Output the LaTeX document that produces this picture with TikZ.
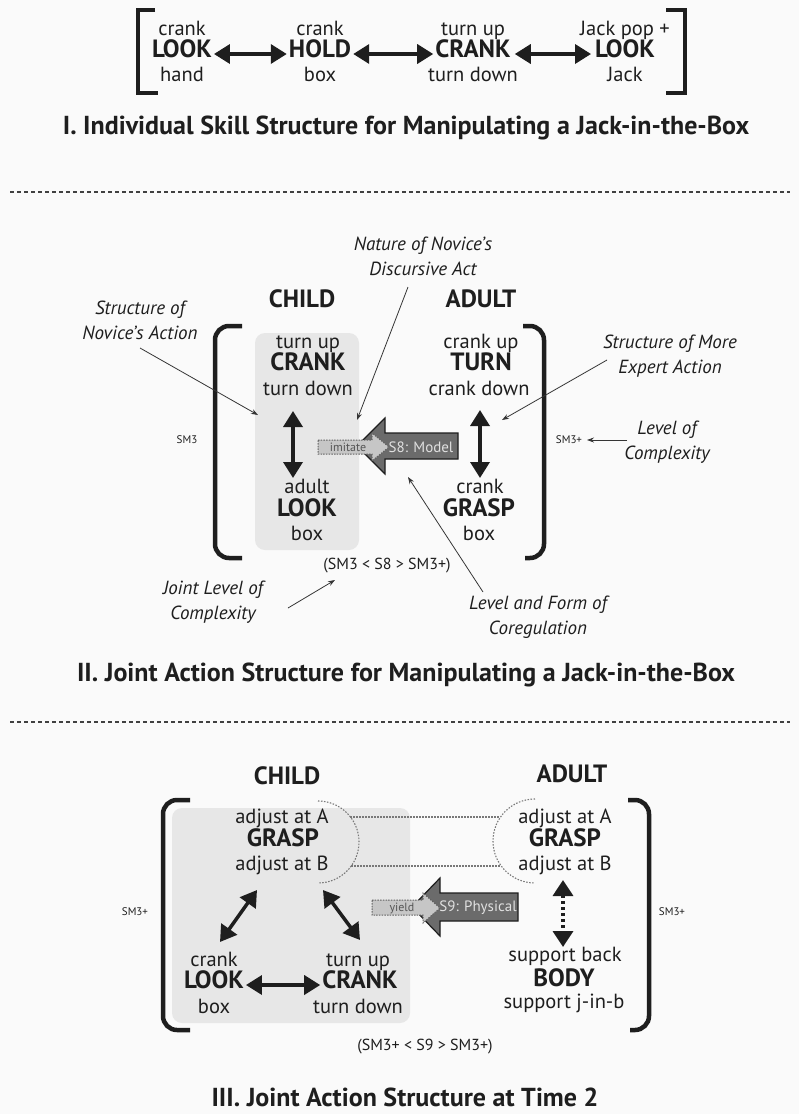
\documentclass[tikz,border=0pt]{standalone}
\usepackage{fontspec}
\setmainfont{PT Sans}
\usetikzlibrary{arrows.meta}
\definecolor{ink}{HTML}{1E1E1E}
\definecolor{paper}{HTML}{FAFAFA}
\definecolor{boxgray}{HTML}{E7E7E7}
\definecolor{arrowfill}{HTML}{6B6B6B}
\definecolor{ghost}{HTML}{C6C6C6}
\begin{document}
\begin{tikzpicture}[x=1pt,y=-1pt,
  bw/.style={font=\bfseries\fontsize{25}{25}\selectfont, text=ink, inner xsep=2pt, inner ysep=0pt, text height=0.7em, text depth=0pt},
  rw/.style={font=\fontsize{20.5}{20.5}\selectfont, text=ink, inner sep=0pt, text height=0.6em, text depth=0pt},
  it/.style={font=\itshape\fontsize{19}{25}\selectfont, text=ink, align=center, inner sep=0pt},
  ttl/.style={font=\bfseries\fontsize{26}{26}\selectfont, text=ink, inner sep=0pt},
  note/.style={font=\fontsize{11}{11}\selectfont, text=ink, inner sep=0pt},
  joint/.style={font=\fontsize{16}{16}\selectfont, text=ink, inner sep=0pt},
  dbl/.style={draw=ink, line width=3.5pt, {Triangle[length=16pt,width=19pt]}-{Triangle[length=16pt,width=19pt]}},
  lead/.style={draw=ink!90, line width=0.8pt, -{Stealth[length=7pt,width=5pt]}},
  brk/.style={draw=ink, line width=4.5pt},
  sep/.style={draw=ink!85, line width=1.8pt, dash pattern=on 4pt off 3pt},
  dots/.style={draw=ink!60, line width=1.1pt, dash pattern=on 1.5pt off 1.5pt},
  force/.style={fill=arrowfill, draw=ink, line width=1.2pt},
  tryit/.style={fill=ghost, draw=ink!70, line width=1pt, dash pattern=on 1.5pt off 1.2pt},
  forcetxt/.style={font=\fontsize{15}{15}\selectfont, text=white!88!black, inner sep=0pt},
  trytxt/.style={font=\fontsize{12}{12}\selectfont, text=ink!75, inner sep=0pt},
]
\useasboundingbox (0,0) rectangle (799,1114);
\fill[paper] (0,0) rectangle (799,1114);

% ---------------- I. individual skill ----------------
\draw[brk, line width=4pt] (155,10) -- (138,10) -- (138,93) -- (158,93);
\draw[brk, line width=4pt] (666,10) -- (685,10) -- (685,93) -- (666,93);

\node[rw] (i1t) at (182,32) {crank};
\node[bw] (i1)  at (182,54) {LOOK};
\node[rw] (i1b) at (182,78) {hand};
\node[rw] (i2t) at (320,32) {crank};
\node[bw] (i2)  at (320,54) {HOLD};
\node[rw] (i2b) at (320,78) {box};
\node[rw] (i3t) at (473,32) {turn up};
\node[bw] (i3)  at (473,54) {CRANK};
\node[rw] (i3b) at (473,78) {turn down};
\node[rw] (i4t) at (625,32) {Jack pop +};
\node[bw] (i4)  at (625,54) {LOOK};
\node[rw] (i4b) at (625,78) {Jack};

\draw[dbl] (i1.east) -- (i2.west);
\draw[dbl] (i2.east) -- (i3.west);
\draw[dbl] ([xshift=2pt]i3.east) -- ([xshift=-2pt]i4.west);

\node[ttl] (t1) at (406,128) {I. Individual Skill Structure for Manipulating a Jack-in-the-Box};

\draw[sep] (10,192) -- (790,192);

% ---------------- II. joint action ----------------
\fill[boxgray, rounded corners=10pt] (255,333) rectangle (359,550);
\draw[brk, rounded corners=14pt] (242,326) -- (215,326) -- (215,558) -- (242,558);
\draw[brk, rounded corners=14pt] (523,326) -- (544,326) -- (544,558) -- (525,558);

\node[bw] (ch2) at (302,304) {CHILD};
\node[bw] (ad2) at (481,304) {ADULT};

\node[rw] (c1t) at (308,345) {turn up};
\node[bw] (c1)  at (308,367) {CRANK};
\node[rw] (c1b) at (308,392) {turn down};
\node[rw] (c2t) at (307,490) {adult};
\node[bw] (c2)  at (307,513) {LOOK};
\node[rw] (c2b) at (307,537) {box};
\coordinate (ca) at (293,411);
\coordinate (cb) at (293,478);
\draw[dbl] (ca) -- (cb);

\node[rw] (d1t) at (481,345) {crank up};
\node[bw] (d1)  at (481,367) {TURN};
\node[rw] (d1b) at (479,392) {crank down};
\node[rw] (d2t) at (480,490) {crank};
\node[bw] (d2)  at (479,513) {GRASP};
\node[rw] (d2b) at (479,537) {box};
\coordinate (da) at (480,410);
\coordinate (db) at (480,478);
\draw[dbl] (da) -- (db);

% model arrow from adult to child, with the child's imitation inside it
\draw[force] (357,446) -- (385,418) -- (385,433) -- (458,433) -- (458,459)
  -- (385,459) -- (385,474) -- cycle;
\node[forcetxt] (s8) at (421,447) {S8: Model};
\draw[tryit] (318,440) -- (372,440) -- (372,433) -- (389,447) -- (372,461)
  -- (372,454) -- (318,454) -- cycle;
\node[trytxt] (imit) at (348,447) {imitate};

\node[note] (sm3a) at (187,440) {SM3};
\node[note] (sm3b) at (569,440) {SM3+};

\node[it] (nov)  at (140,320) {Structure of\\Novice’s Action};
\node[it] (disc) at (423,256) {Nature of Novice’s\\Discursive Act};
\node[it] (exp)  at (670,356) {Structure of More\\Expert Action};
\node[it] (lvl)  at (667,442) {Level of\\Complexity};
\node[it] (jlc)  at (213,602) {Joint Level of\\Complexity};
\node[it] (coreg) at (538,617) {Level and Form of\\Coregulation};
\node[joint] (j2) at (387,566) {(SM3 < S8 > SM3+)};

\coordinate (novA) at (140,348);  \coordinate (novB) at (258,415);
\coordinate (discA) at (408,287); \coordinate (discB) at (357,420);
\coordinate (expA) at (607,360);  \coordinate (expB) at (502,420);
\coordinate (lvlA) at (627,440);  \coordinate (lvlB) at (587,440);
\coordinate (jlcA) at (288,608);  \coordinate (jlcB) at (335,580);
\coordinate (corA) at (483,592);  \coordinate (corB) at (408,477);
\draw[lead] (novA) -- (novB);
\draw[lead] (discA) -- (discB);
\draw[lead] (expA) -- (expB);
\draw[lead] (lvlA) -- (lvlB);
\draw[lead] (jlcA) -- (jlcB);
\draw[lead] (corA) -- (corB);

\node[ttl] (t2) at (406,675) {II. Joint Action Structure for Manipulating a Jack-in-the-Box};

\draw[sep] (10,722) -- (790,722);

% ---------------- III. joint action at time 2 ----------------
\fill[boxgray, rounded corners=10pt] (172,808) rectangle (410,1023);
\draw[brk, rounded corners=14pt] (190,800) -- (163,800) -- (163,1030) -- (190,1030);
\draw[brk, rounded corners=14pt] (628,800) -- (649,800) -- (649,1030) -- (630,1030);

\node[bw] (ch3) at (287,781) {CHILD};
\node[bw] (ad3) at (572,779) {ADULT};

\node[rw] (g1t) at (282,820) {adjust at A};
\node[bw] (g1)  at (283,843) {GRASP};
\node[rw] (g1b) at (282,867) {adjust at B};
\node[rw] (g2t) at (565,820) {adjust at A};
\node[bw] (g2)  at (565,843) {GRASP};
\node[rw] (g2b) at (565,867) {adjust at B};

% shared grasp: dotted half circles joined by dotted lines
\draw[dots] (318,801) arc[start angle=-90, end angle=90, radius=41];
\draw[dots] (535,799) arc[start angle=270, end angle=90, radius=42];
\coordinate (hA1) at (350,817); \coordinate (hA2) at (500,817);
\coordinate (hB1) at (351,866); \coordinate (hB2) at (501,866);
\draw[dots] (hA1) -- (hA2);
\draw[dots] (hB1) -- (hB2);

\node[rw] (l3t) at (214,963) {crank};
\node[bw] (l3)  at (214,985) {LOOK};
\node[rw] (l3b) at (214,1010) {box};
\node[rw] (k3t) at (358,963) {turn up};
\node[bw] (k3)  at (360,985) {CRANK};
\node[rw] (k3b) at (358,1010) {turn down};
\draw[dbl] (l3.east) -- (k3.west);

\coordinate (gl1) at (257,890); \coordinate (gl2) at (220,942);
\coordinate (gr1) at (323,890); \coordinate (gr2) at (360,940);
\draw[dbl] (gl1) -- (gl2);
\draw[dbl] (gr1) -- (gr2);

\node[rw] (b3t) at (565,958) {support back};
\node[bw] (b3)  at (564,983) {BODY};
\node[rw] (b3b) at (564,1005) {support j-in-b};
\coordinate (ga) at (563,880);
\coordinate (gb) at (563,947);
\draw[draw=ink, line width=3.5pt, dash pattern=on 3pt off 3pt,
  {Triangle[length=16pt,width=20pt]}-{Triangle[length=16pt,width=20pt]}] (ga) -- (gb);

\draw[force] (412,907) -- (440,878) -- (440,893) -- (518,893) -- (518,921)
  -- (440,921) -- (440,936) -- cycle;
\node[forcetxt] (s9) at (478,908) {S9: Physical};
\draw[tryit] (372,900) -- (423,900) -- (423,893) -- (440,908) -- (423,923)
  -- (423,915) -- (372,915) -- cycle;
\node[trytxt] (yld) at (402,908) {yield};

\node[note] (sm3c) at (135,912) {SM3+};
\node[note] (sm3d) at (672,912) {SM3+};
\node[joint] (j3) at (425,1047) {(SM3+ < S9 > SM3+)};

\node[ttl] (t3) at (405,1097) {III. Joint Action Structure at Time 2};
\end{tikzpicture}
\end{document}
